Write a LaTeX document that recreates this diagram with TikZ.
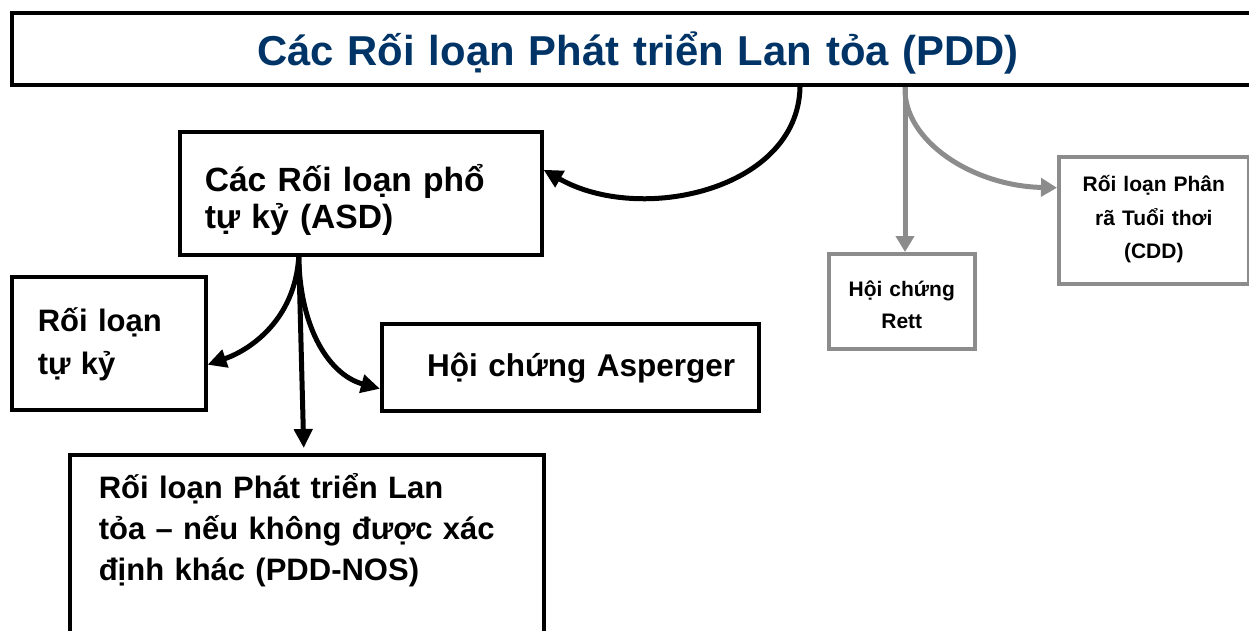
\documentclass[tikz,border=0pt]{standalone}
\usepackage{fontspec}
\setmainfont{Liberation Sans}
\usetikzlibrary{arrows.meta}
\definecolor{gline}{RGB}{140,140,140}
\definecolor{ttl}{RGB}{0,51,102}
\tikzset{
  box/.style={draw=black, line width=3.5pt, rectangle, anchor=north west, inner ysep=0pt, font=\bfseries},
  gbox/.style={draw=gline, line width=3.5pt, rectangle, anchor=north west, inner ysep=0pt, inner xsep=0pt, align=center, font=\bfseries},
  barrow/.style={draw=black, line width=5pt, -{Triangle[length=19pt,width=18pt]}},
  garrow/.style={draw=gline, line width=5pt, -{Triangle[length=16pt,width=18pt]}, color=gline},
}
\begin{document}
\begin{tikzpicture}[x=1pt,y=-1pt]
\useasboundingbox (0,0) rectangle (1249,630);
% title
\node[box, line width=4pt, inner xsep=0pt, align=center, text width=1252pt, minimum width=1252pt,
      text height=52pt, text depth=20pt, text=ttl, font=\bfseries\fontsize{41.8}{50}\selectfont]
  (title) at (10,11) {Các Rối loạn Phát triển Lan tỏa (PDD)};
% ASD
\node[box, inner xsep=25pt, text width=312pt, align=left, text height=60pt, text depth=63pt,
      font=\bfseries\fontsize{33.6}{37}\selectfont]
  (asd) at (178,130) {Các Rối loạn phổ\\tự kỷ (ASD)};
% autism
\node[box, inner xsep=26pt, text width=142pt, align=left, text height=55pt, text depth=78pt,
      font=\bfseries\fontsize{31}{43}\selectfont]
  (tuky) at (10,275) {Rối loạn\\tự kỷ};
% Asperger
\node[box, inner xsep=23.5pt, text width=330pt, align=right, text height=53pt, text depth=34pt,
      font=\bfseries\fontsize{31.5}{40}\selectfont]
  (asp) at (380,322) {Hội chứng Asperger};
% PDD-NOS
\node[box, inner xsep=29pt, text width=416pt, align=left, text height=44pt, text depth=203pt,
      font=\bfseries\fontsize{31}{41}\selectfont]
  (pddnos) at (68,453) {Rối loạn Phát triển Lan\\tỏa – nếu không được xác\\định khác (PDD-NOS)};
% Rett
\node[gbox, text width=146pt, text height=43pt, text depth=52pt,
      font=\bfseries\fontsize{21}{32}\selectfont]
  (rett) at (827,252) {Hội chứng\\Rett};
% CDD
\node[gbox, text width=190pt, text height=35pt, text depth=92pt,
      font=\bfseries\fontsize{21}{33.5}\selectfont]
  (cdd) at (1057,155) {Rối loạn Phân\\rã Tuổi thơi\\(CDD)};
% connectors
\coordinate (t1) at ([xshift=162pt]title.south);
\coordinate (t2) at ([xshift=267pt]title.south);
\coordinate (a1) at ([xshift=-62pt]asd.south);
\draw[barrow] (t1) .. controls (798,190) and (640,225) .. ([yshift=23.5pt]asd.east);
\draw[garrow] (t2) -- (t2 |- rett.north);
\draw[garrow] (t2) .. controls (903,141) and (973,186) .. ([yshift=32.5pt]cdd.west);
\draw[barrow] (a1) .. controls (295,320) and (250,350) .. ([yshift=-21.5pt]tuky.east);
\draw[barrow] (a1) -- ([xshift=-3pt,yshift=5pt]pddnos.north);
\draw[barrow] (a1) .. controls (300,330) and (330,375) .. ([yshift=-21.5pt]asp.west);
\end{tikzpicture}
\end{document}
